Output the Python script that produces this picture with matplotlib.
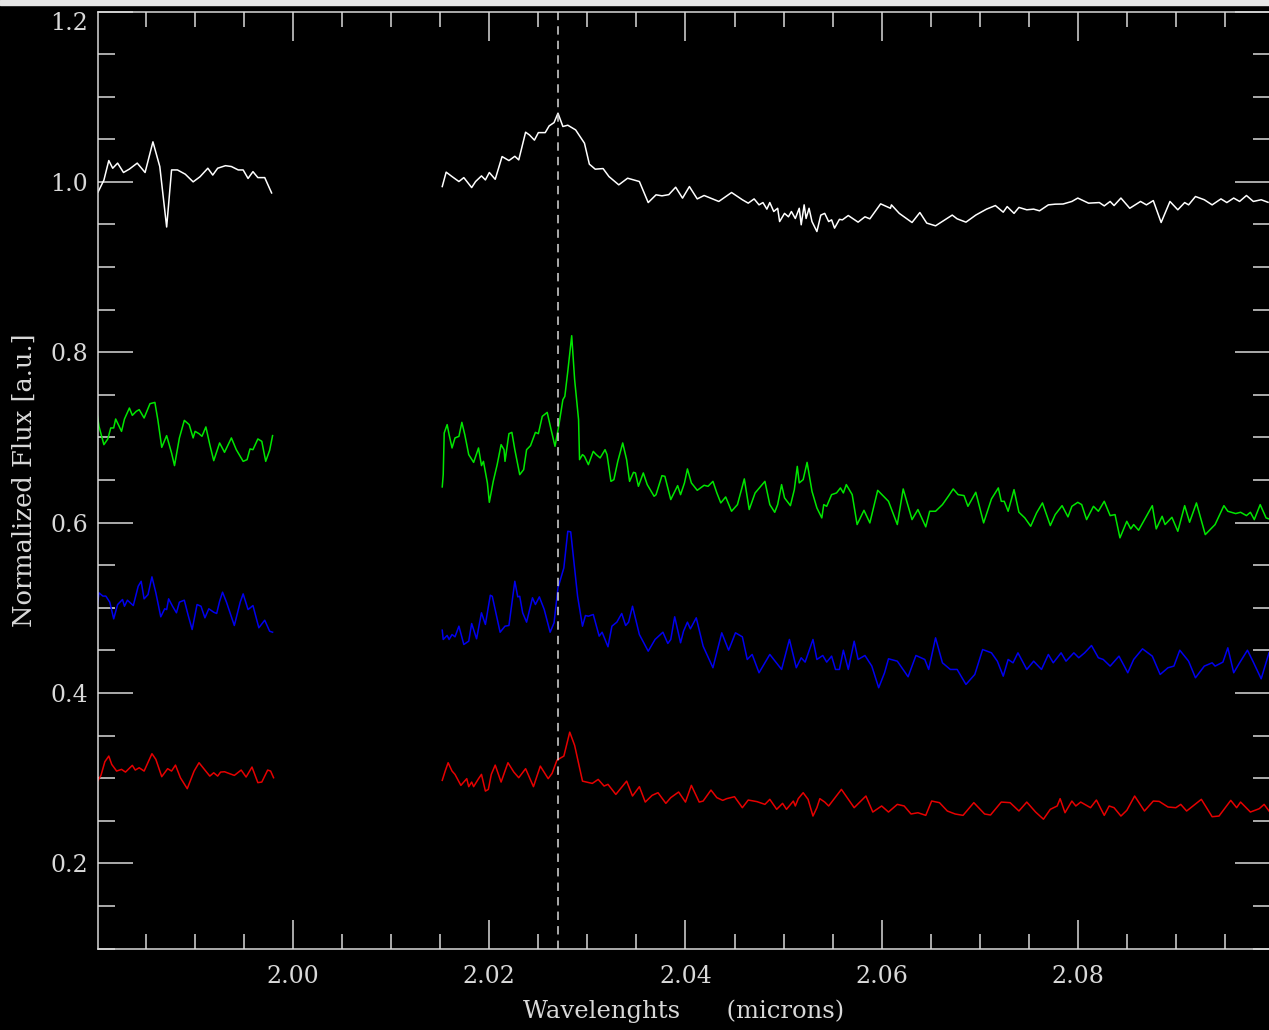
import matplotlib
matplotlib.use("Agg")
import matplotlib.pyplot as plt
from matplotlib.patches import Rectangle
from matplotlib.ticker import FixedLocator, MultipleLocator, FormatStrFormatter

# ---------------- data: (wavelength [micron], normalized flux) ---------------- #
# every spectrum has a gap between ~1.998 and ~2.015 micron

white_left = [(1.9801, 0.988), (1.9807, 1.002), (1.9812, 1.025), (1.9816, 1.016), (1.9821, 1.022),
              (1.9827, 1.011), (1.9833, 1.015), (1.9841, 1.022), (1.9849, 1.011), (1.9857, 1.047),
              (1.9864, 1.018), (1.9871, 0.947), (1.9876, 1.014), (1.9882, 1.014), (1.9890, 1.009),
              (1.9898, 1.000), (1.9905, 1.006), (1.9913, 1.016), (1.9918, 1.008), (1.9923, 1.016),
              (1.9931, 1.019), (1.9937, 1.018), (1.9944, 1.014), (1.9949, 1.014), (1.9954, 1.004),
              (1.9959, 1.012), (1.9964, 1.005), (1.9971, 1.005), (1.9978, 0.987)]

white_right = [(2.0152, 0.9945), (2.0156, 1.0114), (2.0162, 1.0062), (2.0169, 1.0004), (2.0174, 1.0050),
               (2.0182, 0.9933), (2.0186, 1.0004), (2.0192, 1.0070), (2.0196, 1.0023), (2.0200, 1.0110),
               (2.0206, 1.0030), (2.0213, 1.0297), (2.0220, 1.0250), (2.0226, 1.0300), (2.0230, 1.0258),
               (2.0237, 1.0583), (2.0241, 1.0550), (2.0246, 1.0490), (2.0250, 1.0578), (2.0257, 1.0578),
               (2.0261, 1.0657), (2.0266, 1.0696), (2.0270, 1.0806), (2.0275, 1.0650), (2.0280, 1.0665),
               (2.0288, 1.0610), (2.0297, 1.0454), (2.0302, 1.0208), (2.0308, 1.0149), (2.0316, 1.0156),
               (2.0322, 1.0062), (2.0332, 0.9965), (2.0341, 1.0043), (2.0353, 1.0004), (2.0358, 0.9867),
               (2.0362, 0.9757), (2.0370, 0.9848), (2.0376, 0.9836), (2.0383, 0.9850), (2.0390, 0.9937),
               (2.0397, 0.9809), (2.0404, 0.9945), (2.0412, 0.9800), (2.0419, 0.9840), (2.0434, 0.9770),
               (2.0447, 0.9875), (2.0458, 0.9790), (2.0464, 0.9750), (2.0470, 0.9800), (2.0475, 0.9730),
               (2.0479, 0.9757), (2.0483, 0.9680), (2.0486, 0.9757), (2.0490, 0.9652), (2.0494, 0.9690),
               (2.0496, 0.9534), (2.0501, 0.9630), (2.0505, 0.9590), (2.0508, 0.9652), (2.0512, 0.9570),
               (2.0516, 0.9690), (2.0518, 0.9496), (2.0521, 0.9730), (2.0523, 0.9570), (2.0526, 0.9690),
               (2.0529, 0.9534), (2.0534, 0.9417), (2.0538, 0.9610), (2.0542, 0.9630), (2.0546, 0.9534),
               (2.0549, 0.9554), (2.0552, 0.9457), (2.0557, 0.9560), (2.0560, 0.9554), (2.0566, 0.9605),
               (2.0576, 0.9527), (2.0583, 0.9590), (2.0588, 0.9566), (2.0599, 0.9742), (2.0609, 0.9690),
               (2.0610, 0.9730), (2.0618, 0.9630), (2.0631, 0.9523), (2.0639, 0.9640), (2.0646, 0.9516),
               (2.0655, 0.9484), (2.0672, 0.9610), (2.0677, 0.9566), (2.0686, 0.9527), (2.0696, 0.9610),
               (2.0707, 0.9680), (2.0716, 0.9722), (2.0724, 0.9644), (2.0728, 0.9710), (2.0735, 0.9630),
               (2.0740, 0.9700), (2.0748, 0.9672), (2.0755, 0.9680), (2.0761, 0.9660), (2.0770, 0.9730),
               (2.0777, 0.9738), (2.0785, 0.9740), (2.0794, 0.9770), (2.0800, 0.9810), (2.0811, 0.9750),
               (2.0822, 0.9757), (2.0827, 0.9718), (2.0833, 0.9770), (2.0837, 0.9722), (2.0844, 0.9810),
               (2.0853, 0.9690), (2.0864, 0.9770), (2.0870, 0.9730), (2.0877, 0.9780), (2.0885, 0.9523),
               (2.0894, 0.9770), (2.0902, 0.9672), (2.0909, 0.9757), (2.0913, 0.9730), (2.0920, 0.9828),
               (2.0929, 0.9790), (2.0937, 0.9730), (2.0946, 0.9800), (2.0952, 0.9757), (2.0959, 0.9810),
               (2.0965, 0.9770), (2.0972, 0.9840), (2.0979, 0.9770), (2.0987, 0.9790), (2.0994, 0.9760)]

green_left = [(1.9800, 0.7287), (1.9802, 0.7130), (1.9807, 0.6915), (1.9811, 0.6982), (1.9814, 0.7111),
              (1.9817, 0.7111), (1.9819, 0.7216), (1.9825, 0.7071), (1.9828, 0.7216), (1.9833, 0.7345),
              (1.9836, 0.7259), (1.9840, 0.7306), (1.9843, 0.7326), (1.9848, 0.7228), (1.9854, 0.7396),
              (1.9859, 0.7411), (1.9862, 0.7208), (1.9866, 0.6883), (1.9871, 0.7021), (1.9876, 0.6817),
              (1.9879, 0.6669), (1.9884, 0.6994), (1.9889, 0.7200), (1.9894, 0.7150), (1.9898, 0.6994),
              (1.9900, 0.7071), (1.9904, 0.7044), (1.9907, 0.7013), (1.9911, 0.7123), (1.9915, 0.6915),
              (1.9919, 0.6727), (1.9925, 0.6935), (1.9930, 0.6825), (1.9937, 0.6994), (1.9942, 0.6856),
              (1.9949, 0.6719), (1.9953, 0.6739), (1.9956, 0.6865), (1.9959, 0.6856), (1.9964, 0.6982),
              (1.9968, 0.6954), (1.9972, 0.6719), (1.9976, 0.6848), (1.9979, 0.7021)]

green_right = [(2.0152, 0.6419), (2.0153, 0.6563), (2.0154, 0.7052), (2.0157, 0.7150), (2.0159, 0.7032),
               (2.0162, 0.6876), (2.0165, 0.6994), (2.0169, 0.7012), (2.0172, 0.7177), (2.0175, 0.7032),
               (2.0179, 0.6798), (2.0184, 0.6707), (2.0189, 0.6876), (2.0192, 0.6669), (2.0194, 0.6719),
               (2.0198, 0.6466), (2.0200, 0.6238), (2.0204, 0.6484), (2.0208, 0.6680), (2.0212, 0.6915),
               (2.0215, 0.6856), (2.0216, 0.6719), (2.0220, 0.7044), (2.0223, 0.7059), (2.0226, 0.6856),
               (2.0231, 0.6563), (2.0235, 0.6622), (2.0238, 0.6856), (2.0242, 0.6903), (2.0247, 0.7059),
               (2.0250, 0.7044), (2.0254, 0.7247), (2.0259, 0.7294), (2.0263, 0.7091), (2.0267, 0.6895),
               (2.0271, 0.7150), (2.0275, 0.7443), (2.0277, 0.7482), (2.0280, 0.7775), (2.0283, 0.8088),
               (2.0284, 0.8194), (2.0287, 0.7677), (2.0291, 0.7208), (2.0292, 0.6739), (2.0295, 0.6798),
               (2.0297, 0.6778), (2.0301, 0.6680), (2.0306, 0.6836), (2.0309, 0.6798), (2.0313, 0.6759),
               (2.0318, 0.6856), (2.0320, 0.6798), (2.0324, 0.6484), (2.0327, 0.6504), (2.0331, 0.6719),
               (2.0336, 0.6935), (2.0340, 0.6739), (2.0343, 0.6484), (2.0347, 0.6590), (2.0349, 0.6583),
               (2.0352, 0.6426), (2.0357, 0.6583), (2.0361, 0.6446), (2.0368, 0.6309), (2.0370, 0.6328),
               (2.0376, 0.6551), (2.0379, 0.6543), (2.0385, 0.6270), (2.0392, 0.6434), (2.0395, 0.6328),
               (2.0399, 0.6466), (2.0402, 0.6630), (2.0406, 0.6466), (2.0412, 0.6379), (2.0419, 0.6438),
               (2.0423, 0.6426), (2.0428, 0.6484), (2.0432, 0.6348), (2.0436, 0.6231), (2.0441, 0.6301),
               (2.0447, 0.6133), (2.0453, 0.6211), (2.0460, 0.6513), (2.0465, 0.6153), (2.0471, 0.6348),
               (2.0481, 0.6484), (2.0486, 0.6211), (2.0491, 0.6121), (2.0494, 0.6211), (2.0498, 0.6446),
               (2.0501, 0.6290), (2.0507, 0.6199), (2.0511, 0.6387), (2.0514, 0.6660), (2.0516, 0.6466),
               (2.0520, 0.6504), (2.0524, 0.6707), (2.0529, 0.6367), (2.0534, 0.6172), (2.0539, 0.6055),
               (2.0541, 0.6211), (2.0544, 0.6191), (2.0549, 0.6328), (2.0554, 0.6348), (2.0558, 0.6407),
               (2.0561, 0.6348), (2.0564, 0.6446), (2.0570, 0.6328), (2.0575, 0.5977), (2.0582, 0.6144),
               (2.0588, 0.5996), (2.0596, 0.6379), (2.0607, 0.6250), (2.0616, 0.5977), (2.0622, 0.6395),
               (2.0631, 0.6035), (2.0637, 0.6153), (2.0645, 0.5950), (2.0649, 0.6133), (2.0655, 0.6133),
               (2.0662, 0.6211), (2.0668, 0.6309), (2.0673, 0.6395), (2.0678, 0.6328), (2.0684, 0.6317),
               (2.0688, 0.6191), (2.0696, 0.6356), (2.0704, 0.5996), (2.0712, 0.6278), (2.0719, 0.6407),
               (2.0722, 0.6250), (2.0725, 0.6250), (2.0729, 0.6133), (2.0735, 0.6387), (2.0740, 0.6121),
               (2.0746, 0.6055), (2.0752, 0.5957), (2.0758, 0.6114), (2.0764, 0.6231), (2.0772, 0.5965),
               (2.0777, 0.6094), (2.0784, 0.6199), (2.0790, 0.6067), (2.0794, 0.6191), (2.0800, 0.6238),
               (2.0804, 0.6211), (2.0809, 0.6035), (2.0816, 0.6191), (2.0821, 0.6133), (2.0827, 0.6250),
               (2.0833, 0.6082), (2.0838, 0.6094), (2.0843, 0.5821), (2.0850, 0.6015), (2.0854, 0.5926),
               (2.0857, 0.5977), (2.0862, 0.5910), (2.0876, 0.6199), (2.0880, 0.5926), (2.0886, 0.6074),
               (2.0889, 0.5977), (2.0896, 0.6062), (2.0902, 0.5898), (2.0909, 0.6199), (2.0914, 0.6004),
               (2.0921, 0.6231), (2.0930, 0.5859), (2.0940, 0.5977), (2.0949, 0.6199), (2.0953, 0.6133),
               (2.0961, 0.6106), (2.0966, 0.6121), (2.0972, 0.6082), (2.0976, 0.6121), (2.0980, 0.6035),
               (2.0986, 0.6211), (2.0992, 0.6055), (2.0995, 0.6043)]

blue_left = [(1.9800, 0.5000), (1.9802, 0.5175), (1.9806, 0.5137), (1.9809, 0.5137), (1.9813, 0.5066),
             (1.9817, 0.4870), (1.9821, 0.5038), (1.9826, 0.5097), (1.9828, 0.5018), (1.9831, 0.5089),
             (1.9837, 0.5026), (1.9842, 0.5253), (1.9845, 0.5311), (1.9848, 0.5105), (1.9852, 0.5155),
             (1.9856, 0.5363), (1.9860, 0.5175), (1.9865, 0.4894), (1.9869, 0.4988), (1.9871, 0.4979),
             (1.9873, 0.5105), (1.9877, 0.5018), (1.9881, 0.4941), (1.9884, 0.5066), (1.9889, 0.5089),
             (1.9893, 0.4909), (1.9897, 0.4745), (1.9902, 0.5038), (1.9906, 0.5018), (1.9910, 0.4882),
             (1.9914, 0.4988), (1.9919, 0.4948), (1.9922, 0.4933), (1.9925, 0.5077), (1.9928, 0.5183),
             (1.9932, 0.5066), (1.9940, 0.4792), (1.9946, 0.5066), (1.9949, 0.5163), (1.9954, 0.4979),
             (1.9959, 0.5026), (1.9965, 0.4765), (1.9971, 0.4854), (1.9976, 0.4725), (1.9979, 0.4713)]

blue_right = [(2.0152, 0.4737), (2.0153, 0.4628), (2.0157, 0.4675), (2.0159, 0.4628), (2.0162, 0.4686),
              (2.0165, 0.4659), (2.0169, 0.4784), (2.0174, 0.4569), (2.0179, 0.4608), (2.0182, 0.4815),
              (2.0187, 0.4636), (2.0192, 0.4941), (2.0196, 0.4804), (2.0201, 0.5147), (2.0203, 0.5135),
              (2.0211, 0.4713), (2.0216, 0.4784), (2.0220, 0.4792), (2.0226, 0.5311), (2.0229, 0.5128),
              (2.0231, 0.5135), (2.0234, 0.4941), (2.0238, 0.4831), (2.0244, 0.5117), (2.0247, 0.5038),
              (2.0251, 0.5128), (2.0256, 0.4979), (2.0262, 0.4713), (2.0266, 0.4823), (2.0270, 0.5234),
              (2.0276, 0.5469), (2.0280, 0.5898), (2.0283, 0.5891), (2.0290, 0.5135), (2.0295, 0.4784),
              (2.0298, 0.4909), (2.0301, 0.4901), (2.0306, 0.4921), (2.0312, 0.4667), (2.0315, 0.4713),
              (2.0321, 0.4542), (2.0325, 0.4784), (2.0330, 0.4831), (2.0335, 0.4933), (2.0339, 0.4792),
              (2.0342, 0.4831), (2.0346, 0.5018), (2.0353, 0.4686), (2.0362, 0.4490), (2.0369, 0.4628),
              (2.0377, 0.4713), (2.0382, 0.4581), (2.0385, 0.4628), (2.0389, 0.4894), (2.0395, 0.4589),
              (2.0398, 0.4725), (2.0402, 0.4831), (2.0405, 0.4753), (2.0411, 0.4882), (2.0418, 0.4549),
              (2.0428, 0.4296), (2.0437, 0.4706), (2.0444, 0.4502), (2.0451, 0.4706), (2.0458, 0.4659),
              (2.0463, 0.4393), (2.0468, 0.4452), (2.0475, 0.4237), (2.0486, 0.4452), (2.0498, 0.4276),
              (2.0506, 0.4628), (2.0513, 0.4296), (2.0518, 0.4413), (2.0522, 0.4362), (2.0530, 0.4628),
              (2.0534, 0.4393), (2.0540, 0.4440), (2.0544, 0.4362), (2.0549, 0.4432), (2.0553, 0.4276),
              (2.0557, 0.4276), (2.0561, 0.4502), (2.0566, 0.4276), (2.0572, 0.4608), (2.0576, 0.4393),
              (2.0583, 0.4440), (2.0590, 0.4315), (2.0597, 0.4061), (2.0603, 0.4237), (2.0607, 0.4401),
              (2.0616, 0.4373), (2.0627, 0.4190), (2.0635, 0.4440), (2.0644, 0.4393), (2.0648, 0.4276),
              (2.0655, 0.4647), (2.0662, 0.4354), (2.0670, 0.4276), (2.0677, 0.4276), (2.0686, 0.4100),
              (2.0695, 0.4217), (2.0703, 0.4510), (2.0712, 0.4471), (2.0718, 0.4373), (2.0724, 0.4197),
              (2.0729, 0.4393), (2.0734, 0.4354), (2.0739, 0.4471), (2.0748, 0.4276), (2.0755, 0.4373),
              (2.0763, 0.4276), (2.0770, 0.4452), (2.0775, 0.4354), (2.0783, 0.4471), (2.0788, 0.4373),
              (2.0796, 0.4471), (2.0801, 0.4413), (2.0807, 0.4471), (2.0814, 0.4557), (2.0821, 0.4413),
              (2.0826, 0.4393), (2.0833, 0.4315), (2.0842, 0.4432), (2.0851, 0.4237), (2.0857, 0.4393),
              (2.0866, 0.4518), (2.0876, 0.4432), (2.0884, 0.4217), (2.0892, 0.4296), (2.0898, 0.4315),
              (2.0904, 0.4502), (2.0913, 0.4373), (2.0920, 0.4178), (2.0929, 0.4315), (2.0937, 0.4354),
              (2.0940, 0.4315), (2.0948, 0.4362), (2.0953, 0.4530), (2.0959, 0.4237), (2.0965, 0.4354),
              (2.0973, 0.4502), (2.0979, 0.4362), (2.0987, 0.4166), (2.0995, 0.4471)]

red_left = [(1.9800, 0.2954), (1.9804, 0.3032), (1.9808, 0.3193), (1.9812, 0.3259), (1.9815, 0.3161),
            (1.9820, 0.3083), (1.9825, 0.3103), (1.9829, 0.3071), (1.9836, 0.3150), (1.9839, 0.3095),
            (1.9843, 0.3122), (1.9848, 0.3083), (1.9856, 0.3287), (1.9860, 0.3220), (1.9866, 0.3017),
            (1.9872, 0.3111), (1.9876, 0.3083), (1.9880, 0.3153), (1.9885, 0.3005), (1.9892, 0.2876),
            (1.9899, 0.3083), (1.9904, 0.3181), (1.9910, 0.3095), (1.9915, 0.3024), (1.9919, 0.3063),
            (1.9923, 0.3024), (1.9926, 0.3071), (1.9930, 0.3075), (1.9940, 0.3032), (1.9947, 0.3095),
            (1.9952, 0.3013), (1.9958, 0.3130), (1.9964, 0.2947), (1.9968, 0.2954), (1.9974, 0.3095),
            (1.9977, 0.3083), (1.9980, 0.3005)]

red_right = [(2.0152, 0.2974), (2.0155, 0.3083), (2.0158, 0.3181), (2.0162, 0.3083), (2.0165, 0.3044),
             (2.0171, 0.2915), (2.0177, 0.2994), (2.0179, 0.2900), (2.0182, 0.2954), (2.0184, 0.2900),
             (2.0189, 0.2994), (2.0192, 0.3044), (2.0196, 0.2848), (2.0199, 0.2868), (2.0202, 0.3044),
             (2.0206, 0.3153), (2.0212, 0.2954), (2.0219, 0.3181), (2.0225, 0.3071), (2.0230, 0.3005),
             (2.0237, 0.3111), (2.0245, 0.2900), (2.0252, 0.3141), (2.0260, 0.2994), (2.0264, 0.3056),
             (2.0269, 0.3212), (2.0276, 0.3259), (2.0282, 0.3540), (2.0287, 0.3384), (2.0295, 0.2965),
             (2.0305, 0.2938), (2.0311, 0.2985), (2.0317, 0.2907), (2.0321, 0.2927), (2.0329, 0.2809),
             (2.0340, 0.2965), (2.0346, 0.2790), (2.0353, 0.2900), (2.0359, 0.2719), (2.0366, 0.2798),
             (2.0372, 0.2829), (2.0380, 0.2704), (2.0385, 0.2771), (2.0393, 0.2837), (2.0400, 0.2719),
             (2.0406, 0.2915), (2.0414, 0.2719), (2.0418, 0.2731), (2.0426, 0.2860), (2.0432, 0.2771),
             (2.0438, 0.2739), (2.0442, 0.2759), (2.0450, 0.2782), (2.0458, 0.2653), (2.0464, 0.2743),
             (2.0473, 0.2724), (2.0481, 0.2692), (2.0486, 0.2751), (2.0493, 0.2634), (2.0499, 0.2704),
             (2.0503, 0.2634), (2.0510, 0.2731), (2.0512, 0.2673), (2.0515, 0.2759), (2.0520, 0.2829),
             (2.0525, 0.2751), (2.0530, 0.2555), (2.0534, 0.2653), (2.0537, 0.2759), (2.0542, 0.2719),
             (2.0546, 0.2673), (2.0559, 0.2868), (2.0572, 0.2653), (2.0584, 0.2790), (2.0591, 0.2602),
             (2.0600, 0.2673), (2.0607, 0.2602), (2.0616, 0.2692), (2.0623, 0.2673), (2.0630, 0.2579),
             (2.0637, 0.2594), (2.0645, 0.2563), (2.0651, 0.2731), (2.0659, 0.2712), (2.0667, 0.2614),
             (2.0675, 0.2579), (2.0683, 0.2563), (2.0694, 0.2712), (2.0705, 0.2579), (2.0711, 0.2567),
             (2.0722, 0.2719), (2.0731, 0.2712), (2.0740, 0.2614), (2.0748, 0.2719), (2.0757, 0.2602),
             (2.0765, 0.2518), (2.0772, 0.2634), (2.0779, 0.2673), (2.0782, 0.2759), (2.0787, 0.2594),
             (2.0794, 0.2731), (2.0798, 0.2673), (2.0803, 0.2719), (2.0813, 0.2653), (2.0819, 0.2743),
             (2.0827, 0.2563), (2.0832, 0.2673), (2.0837, 0.2653), (2.0844, 0.2555), (2.0850, 0.2622),
             (2.0858, 0.2790), (2.0868, 0.2614), (2.0877, 0.2731), (2.0883, 0.2727), (2.0892, 0.2661),
             (2.0900, 0.2653), (2.0905, 0.2692), (2.0911, 0.2614), (2.0926, 0.2751), (2.0937, 0.2547),
             (2.0944, 0.2555), (2.0956, 0.2739), (2.0962, 0.2653), (2.0966, 0.2719), (2.0976, 0.2602),
             (2.0985, 0.2641), (2.0990, 0.2692), (2.0995, 0.2614)]

line_center = 2.027          # dashed vertical marker

x_ticks = [2.00, 2.02, 2.04, 2.06, 2.08]
y_ticks = [0.2, 0.4, 0.6, 0.8, 1.0, 1.2]
x_range = (1.9801, 2.0996)
y_range = (0.1, 1.2)

# ---------------- plotting ---------------- #
fg = "#d9d9d9"
plt.rcParams["font.family"] = ["DejaVu Serif"]

fig = plt.figure(figsize=(12.69, 10.30), dpi=100, facecolor="black")
ax = fig.add_axes([98 / 1269, 81.5 / 1030, 1172 / 1269, 937 / 1030], facecolor="black")

spectra = [(white_left, white_right, "#ffffff"),
           (green_left, green_right, "#00e600"),
           (blue_left, blue_right, "#0000ee"),
           (red_left, red_right, "#e60000")]

for left, right, col in spectra:
    for seg in (left, right):
        wl, fl = zip(*seg)
        ax.plot(wl, fl, color=col, lw=1.1)

ax.axvline(line_center, color=fg, lw=1.1, ls=(0, (5.5, 4)))

ax.set_xlim(*x_range)
ax.set_ylim(*y_range)
ax.xaxis.set_major_locator(FixedLocator(x_ticks))
ax.xaxis.set_minor_locator(MultipleLocator(0.005))
ax.yaxis.set_major_locator(FixedLocator(y_ticks))
ax.yaxis.set_minor_locator(MultipleLocator(0.05))
ax.xaxis.set_major_formatter(FormatStrFormatter("%.2f"))
ax.yaxis.set_major_formatter(FormatStrFormatter("%.1f"))

ax.tick_params(which="both", direction="in", top=True, right=True,
               colors=fg, width=1.1, labelsize=17)
ax.tick_params(axis="x", which="major", length=21, pad=12)
ax.tick_params(axis="x", which="minor", length=10.5)
ax.tick_params(axis="y", which="major", length=25, pad=7)
ax.tick_params(axis="y", which="minor", length=12.5)
for s in ax.spines.values():
    s.set_color(fg)
    s.set_linewidth(1.1)

ax.set_xlabel("Wavelenghts      (microns)", color=fg, fontsize=17.5, labelpad=8)
ax.set_ylabel("Normalized Flux [a.u.]", color=fg, fontsize=18.5, labelpad=10)

# the top label sits just under the frame, as in the original
fig.canvas.draw()
ax.get_yticklabels()[-1].set_verticalalignment("top")

# thin light strip along the top edge
fig.patches.append(Rectangle((0, 1 - 5 / 1030), 1, 5 / 1030, transform=fig.transFigure,
                             color="#e6e6e6", zorder=10))

fig.savefig("out.png", dpi=100, facecolor="black")
